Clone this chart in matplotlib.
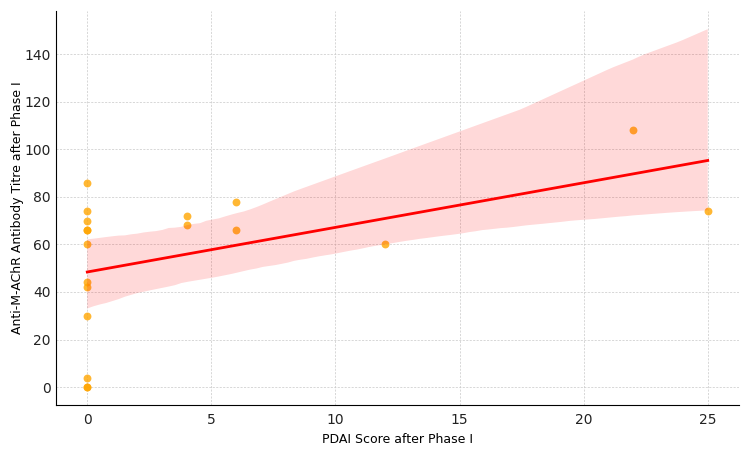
import numpy as np
import pandas as pd
import matplotlib
matplotlib.use('Agg')
import matplotlib.pyplot as plt
import seaborn as sns

pdai_score = [0, 0, 0, 0, 0, 0, 0, 0, 0, 0, 0, 0, 4, 4, 6, 6, 12, 22, 25]
antibody_titre = [86, 74, 70, 66, 66, 60, 44, 42, 30, 4, 0, 0, 72, 68, 78, 66, 60, 108, 74]

df = pd.DataFrame({'pdai': pdai_score, 'titre': antibody_titre})

fig, ax = plt.subplots(figsize=(7.5, 4.5), dpi=100)

sns.regplot(x='pdai', y='titre', data=df, ax=ax, ci=95, seed=3,
            scatter_kws={'color': '#FFA500', 'alpha': 0.8, 's': 32, 'linewidths': 0},
            line_kws={'color': 'red', 'linewidth': 2})
# make the band light pink like the reference
for coll in ax.collections[1:]:
    coll.set_facecolor('red')
    coll.set_alpha(0.15)

ax.set_xlabel('PDAI Score after Phase I', fontsize=9)
ax.set_ylabel('Anti-M-AChR Antibody Titre after Phase I', fontsize=9)
ax.yaxis.set_label_coords(-0.047, 0.5)
ax.grid(True, linestyle=(0, (3, 2)), linewidth=0.5, color='#c8c8c8')
ax.set_axisbelow(True)
ax.spines['top'].set_visible(False)
ax.spines['right'].set_visible(False)
ax.tick_params(axis='y', length=0, labelsize=10, pad=4, labelcolor='#222222')
ax.tick_params(axis='x', length=0, labelsize=10, pad=6, labelcolor='#222222')

fig.subplots_adjust(left=0.075, right=0.985, top=0.975, bottom=0.1)
fig.savefig('out.png', dpi=100)
